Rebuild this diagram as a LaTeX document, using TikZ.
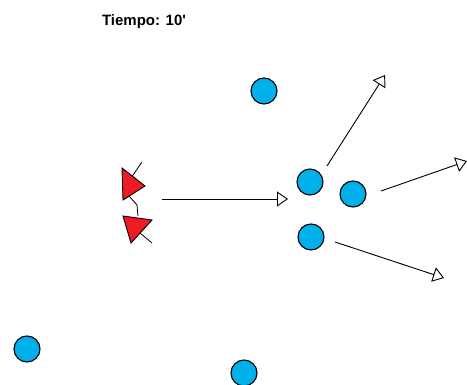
\documentclass[tikz,border=0pt]{standalone}
\usepackage{fontspec}
\setmainfont{Liberation Sans}[Ligatures=TeXOff]
\usetikzlibrary{arrows.meta}
\definecolor{ballblue}{RGB}{0,176,234}
\definecolor{playerred}{RGB}{237,28,36}
\begin{document}
\begin{tikzpicture}[x=1pt,y=-1pt,
  player/.style={circle,draw=black,line width=1.1pt,fill=ballblue,minimum size=26pt,inner sep=0pt},
  move/.style={draw=black,line width=0.9pt,-{Triangle[open,length=11pt,width=15pt,line width=0.9pt]}},
  rival/.style={draw=black,line width=0.9pt,fill=playerred,line join=miter},
  stick/.style={draw=black,line width=0.8pt}]
\useasboundingbox (0,0) rectangle (467,385);
\node[font=\bfseries\fontsize{15}{17}\selectfont,anchor=base,inner sep=0pt] (title) at (144,26) {Tiempo: 10'};
% blue players
\node[player] (p1) at (264,91) {};
\node[player] (p2) at (310,182) {};
\node[player] (p3) at (353,194) {};
\node[player] (p4) at (311,237) {};
\node[player] (p5) at (27,349) {};
\node[player] (p6) at (244,373) {};
% arrow end points
\coordinate (a1s) at (327,166);
\coordinate (a1e) at (385,75);
\coordinate (a2s) at (381,191);
\coordinate (a2e) at (467,161);
\coordinate (a3s) at (335,242);
\coordinate (a3e) at (444,278);
\coordinate (a4s) at (162,199);
\coordinate (a4e) at (288,199);
\draw[move] (a1s) -- (a1e);
\draw[move] (a2s) -- (a2e);
\draw[move] (a3s) -- (a3e);
\draw[move] (a4s) -- (a4e);
% red players
\coordinate (r1a) at (122,168);
\coordinate (r1b) at (123,200);
\coordinate (r1c) at (145,186);
\coordinate (r2a) at (123,216);
\coordinate (r2b) at (152,220);
\coordinate (r2c) at (131,243);
\draw[stick] (131,178) -- (142,162);
\draw[stick] (140,233) -- (152,243);
\draw[stick] (129,196) -- (137,205) -- (138,216);
\draw[rival] (r1a) -- (r1b) -- (r1c) -- cycle;
\draw[rival] (r2a) -- (r2b) -- (r2c) -- cycle;
\end{tikzpicture}
\end{document}
